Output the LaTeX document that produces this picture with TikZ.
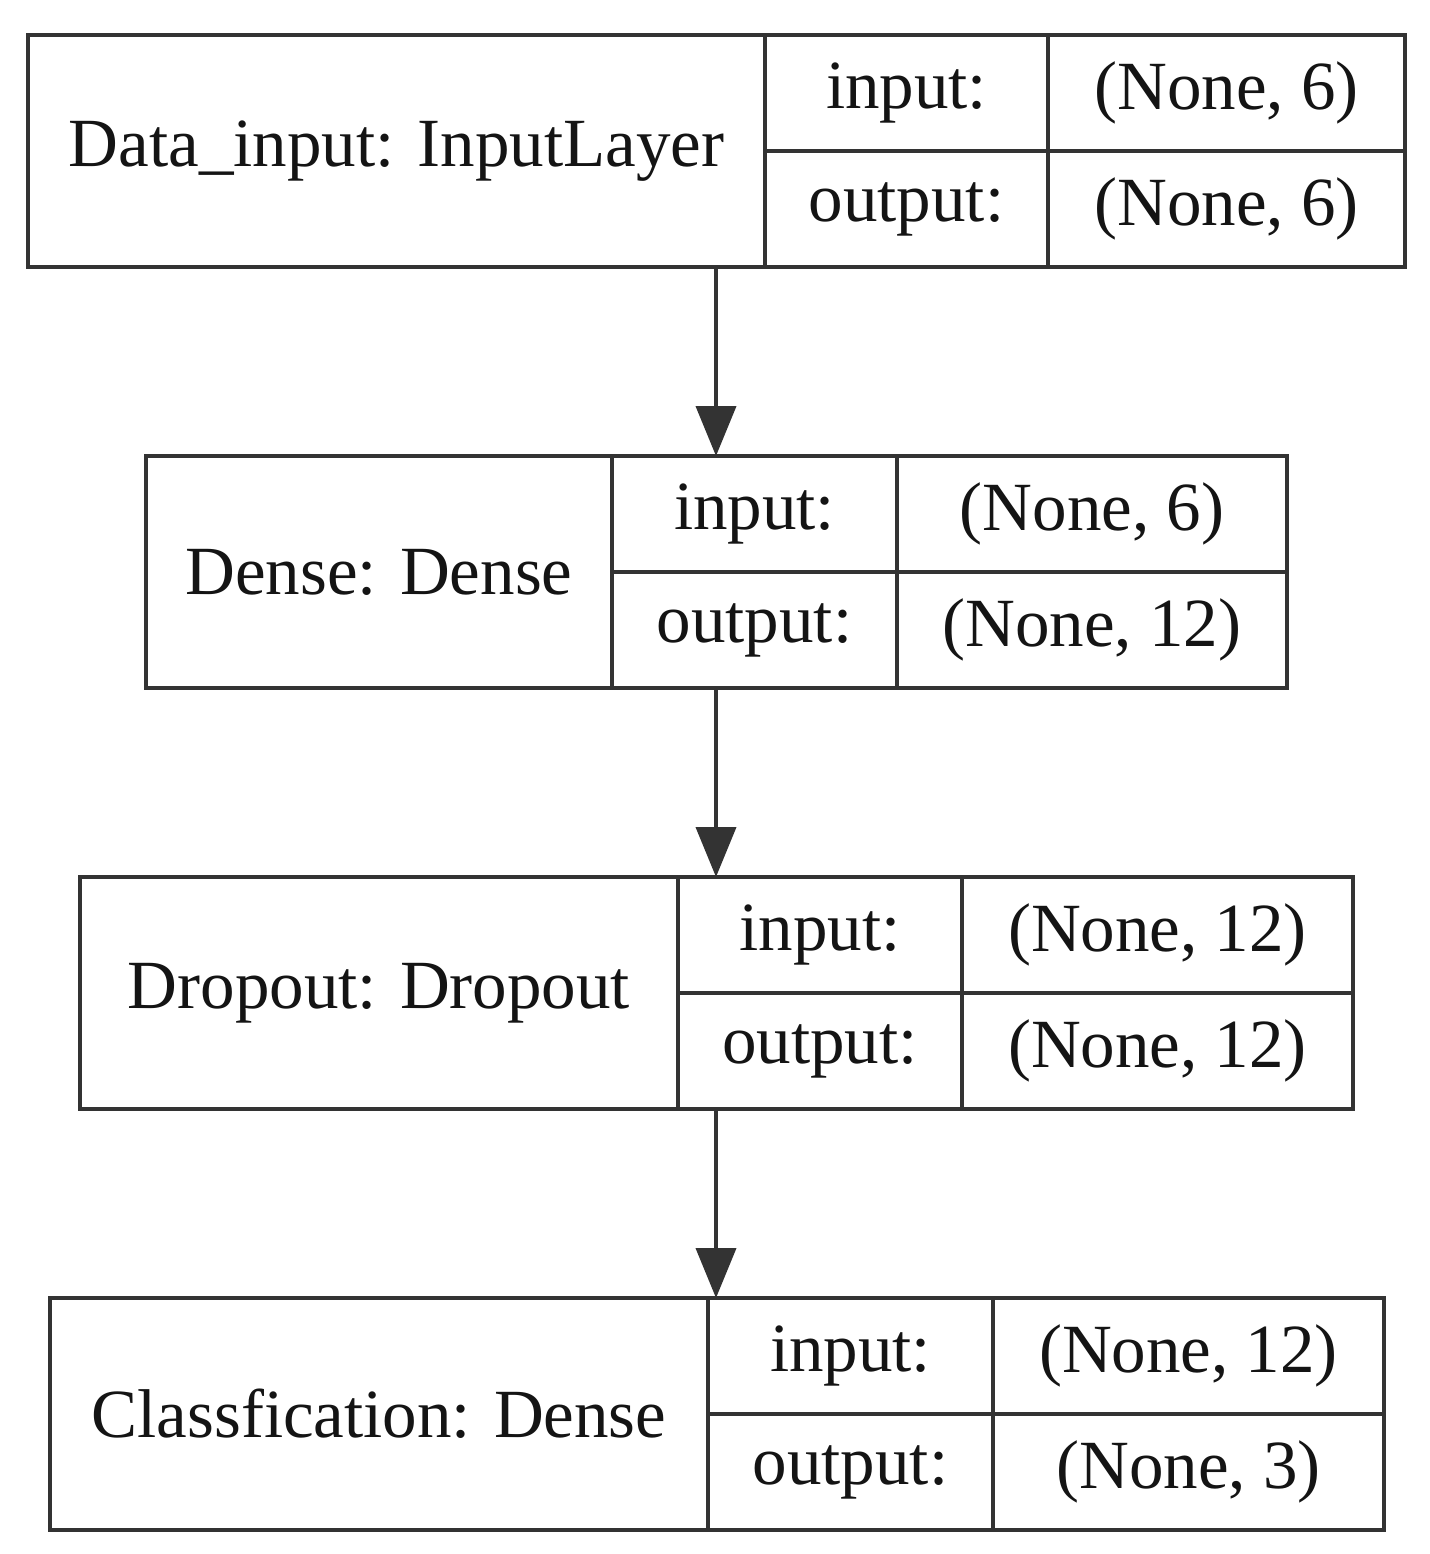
\documentclass[tikz,border=0pt]{standalone}
\usepackage{fontspec}
\setmainfont{Liberation Serif}
\usetikzlibrary{arrows.meta}
\tikzset{
  cell/.style={draw=black!80, line width=2pt, rectangle, inner sep=0pt, outer sep=0pt,
    font=\fontsize{34.5pt}{40pt}\selectfont, text=black!92, anchor=center},
  arr/.style={draw=black!80, line width=2pt, -{Triangle[width=20pt,length=25pt]}},
}
% name, x0, x1, x2, x3, y0, title, in, out  (pixel units, height 232)
\newcommand\layer[9]{%
  \pgfmathsetmacro\wa{(#3-#2)*0.5}%
  \pgfmathsetmacro\wb{(#4-#3)*0.5}%
  \pgfmathsetmacro\wc{(#5-#4)*0.5}%
  \node[cell, minimum width=\wa pt, minimum height=116pt] (#1-t) at ({(#2+#3)/2},{#6+116}) {#7};
  \node[cell, minimum width=\wb pt, minimum height=58pt] (#1-il) at ({(#3+#4)/2},{#6+58}) {input:};
  \node[cell, minimum width=\wc pt, minimum height=58pt] (#1-iv) at ({(#4+#5)/2},{#6+58}) {#8};
  \node[cell, minimum width=\wb pt, minimum height=58pt] (#1-ol) at ({(#3+#4)/2},{#6+174}) {output:};
  \node[cell, minimum width=\wc pt, minimum height=58pt] (#1-ov) at ({(#4+#5)/2},{#6+174}) {#9};
}
\begin{document}
\begin{tikzpicture}[x=0.5pt,y=-0.5pt]
  \useasboundingbox[fill=white] (0,0) rectangle (1430,1554);
  \layer{l1}{28}{765}{1048}{1405}{35}{Data\_input: InputLayer}{(None, 6)}{(None, 6)}
  \layer{l2}{146}{612}{897}{1287}{456}{Dense: Dense}{(None, 6)}{(None, 12)}
  \layer{l3}{80}{678}{962}{1353}{877}{Dropout: Dropout}{(None, 12)}{(None, 12)}
  \layer{l4}{50}{708}{993}{1384}{1298}{Classfication: Dense}{(None, 12)}{(None, 3)}
  \coordinate (ax) at (716,0);
  \draw[arr] (l1-t.south -| ax) -- (l2-il.north -| ax);
  \draw[arr] (l2-ol.south -| ax) -- (l3-t.north -| ax);
  \draw[arr] (l3-t.south -| ax) -- (l4-il.north -| ax);
\end{tikzpicture}
\end{document}
